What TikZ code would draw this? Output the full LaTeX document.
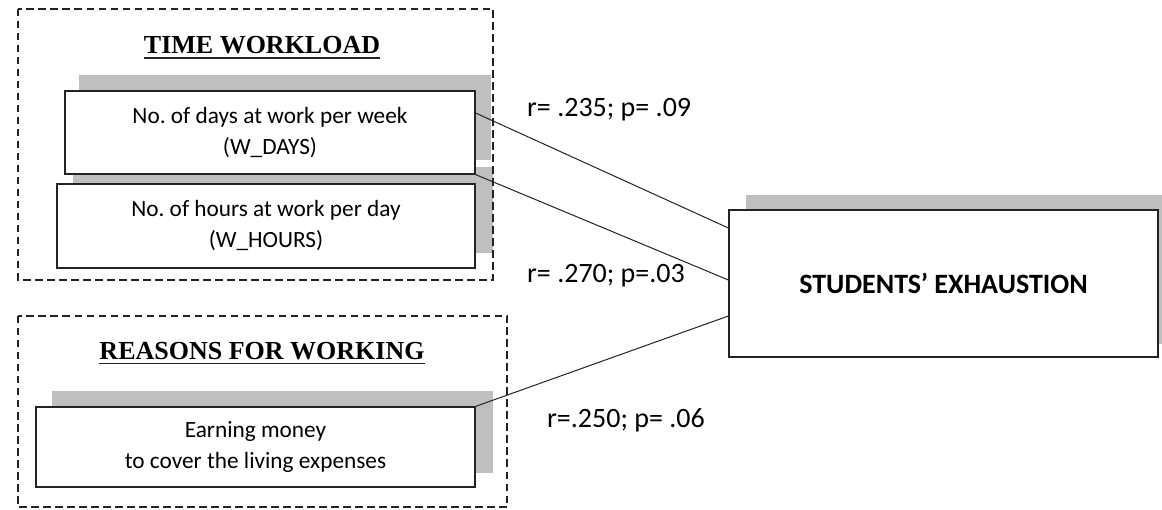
\documentclass[tikz,border=0pt]{standalone}
\usepackage{fontspec}
\setmainfont{Carlito}
\newfontfamily\titlefont{Liberation Serif}
\usetikzlibrary{calc}
\frenchspacing
\pgfdeclarelayer{bg}
\pgfsetlayers{bg,main}
\definecolor{shade}{RGB}{191,191,191}
\definecolor{ink}{RGB}{35,35,35}
\tikzset{
  var/.style={draw=ink, line width=1.2pt, fill=white, inner sep=0pt, align=center,
    font=\frenchspacing\fontsize{23.3}{31}\selectfont},
  group/.style={draw=ink, line width=1.5pt, dash pattern=on 7.5pt off 4.5pt},
  gtitle/.style={inner sep=0pt, anchor=base, font=\titlefont\bfseries\fontsize{26}{30}\selectfont},
  uline/.style={draw=ink, line width=1.3pt},
  link/.style={draw=ink, line width=1pt},
  rlabel/.style={inner sep=0pt, anchor=base west, font=\fontsize{28}{30}\selectfont},
  shadowbox/.style={fill=shade}
}
\begin{document}
\begin{tikzpicture}[x=1pt,y=-1pt]
\useasboundingbox (0,0) rectangle (1162,510);
\clip (0,0) rectangle (1162,510);
% boxes
\node[var, minimum width=410pt, minimum height=83pt] (days) at (270,132.5)
  {No. of days at work per week\\(W\_DAYS)};
\node[var, minimum width=418pt, minimum height=84pt] (hours) at (266,226)
  {No. of hours at work per day\\(W\_HOURS)};
\node[var, minimum width=439pt, minimum height=80pt] (earn) at (255.5,447)
  {\raisebox{-4pt}{\parbox{430pt}{\centering Earning money\\to cover the living expenses}}};
\node[var, minimum width=429pt, minimum height=147pt, font=\bfseries\fontsize{28}{30}\selectfont] (exh) at (943.5,283.5)
  {STUDENTS’ EXHAUSTION};
% shadows
\begin{pgfonlayer}{bg}
\fill[shadowbox] ($(days.south west)+(15,-15)$) rectangle ($(days.north east)+(15,-15)$);
\fill[shadowbox] ($(hours.south west)+(17,-16)$) rectangle ($(hours.north east)+(17,-16)$);
\fill[shadowbox] ($(earn.south west)+(17,-15)$) rectangle ($(earn.north east)+(17,-15)$);
\fill[shadowbox] ($(exh.south west)+(18,-14)$) rectangle ($(exh.north east)+(18,-14)$);
\end{pgfonlayer}
% groups
\coordinate (g1a) at (18,9);
\coordinate (g1b) at (493,280);
\coordinate (g2a) at (18,316);
\coordinate (g2b) at (507,507);
\draw[group] (g1a) rectangle (g1b);
\draw[group] (g2a) rectangle (g2b);
\node[gtitle] (t1) at (262,54) {TIME WORKLOAD};
\draw[uline] ($(t1.base west)+(0,4)$) -- ($(t1.base east)+(0,4)$);
\node[gtitle] (t2) at (262,360) {REASONS FOR WORKING};
\draw[uline] ($(t2.base west)+(0,3.5)$) -- ($(t2.base east)+(0,3.5)$);
% connectors
\draw[link] ($(days.east)+(0,-19.5)$) -- ($(exh.west)+(0,-55.5)$);
\draw[link] (days.south east) -- ($(exh.west)+(0,-3.5)$);
\draw[link] (earn.north east) -- ($(exh.west)+(0,32.5)$);
% labels
\node[rlabel] (l1) at (527,117) {r= .235; p= .09};
\node[rlabel] (l2) at (527,283) {r= .270; p=.03};
\node[rlabel] (l3) at (547,428) {r=.250; p= .06};
\end{tikzpicture}
\end{document}
